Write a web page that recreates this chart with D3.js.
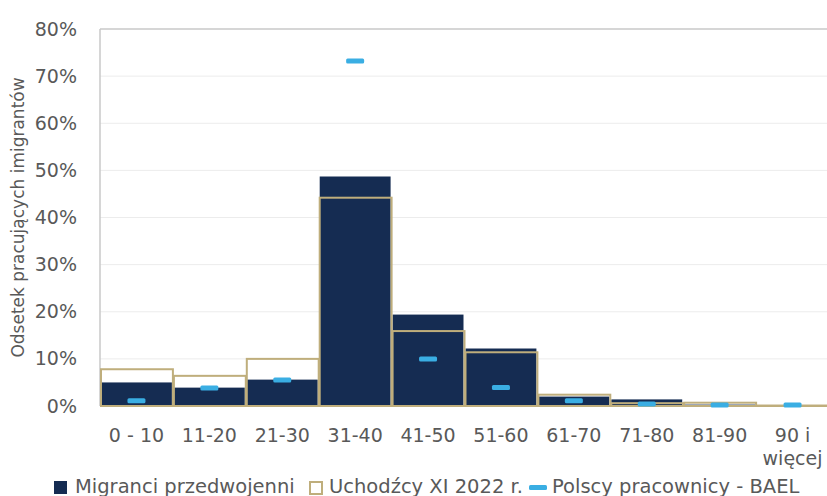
<!DOCTYPE html>
<html>
<head>
<meta charset="utf-8">
<script src="https://cdn.jsdelivr.net/npm/d3@7"></script>
<style>
  body { margin: 0; background: #fff; }
  text { font-family: "DejaVu Sans", sans-serif; fill: #595959; }
</style>
</head>
<body>
<div id="chart"></div>
<script>
// age groups and shares (%)
var categories = ["0 - 10", "11-20", "21-30", "31-40", "41-50", "51-60", "61-70", "71-80", "81-90", "90 i|więcej"];
var migranci = [5.0, 3.9, 5.6, 48.7, 19.4, 12.2, 2.0, 1.4, 0.3, 0.0];
var uchodzcy = [7.8, 6.4, 10.0, 44.2, 15.9, 11.4, 2.4, 0.6, 0.7, 0.1];
var polscy = [1.1, 3.8, 5.5, 73.2, 10.0, 3.9, 1.1, 0.4, 0.2, 0.2];
var yTicks = [0, 10, 20, 30, 40, 50, 60, 70, 80];
var seriesNames = ["Migranci przedwojenni", "Uchodźcy XI 2022 r.", "Polscy pracownicy - BAEL"];

var navy = "#152c52", tan = "#bfae7c", blue = "#3aaee3";

// set the dimensions and margins of the graph
var W = 827, H = 496;
var margin = {top: 29, right: -2, bottom: 90, left: 100},
    width = W - margin.left - margin.right,
    height = H - margin.top - margin.bottom;

var svg = d3.select("#chart")
  .append("svg")
    .attr("width", W)
    .attr("height", H)
  .append("g")
    .attr("transform", "translate(" + margin.left + "," + margin.top + ")");

var x = d3.scaleBand()
  .domain(categories)
  .range([0, width])
  .padding(0);

var y = d3.scaleLinear()
  .domain([0, 80])
  .range([height, 0]);

// gridlines
svg.append("g")
  .selectAll("line")
  .data(yTicks.slice(1))
  .enter()
  .append("line")
    .attr("x1", 0)
    .attr("x2", width)
    .attr("y1", function (d) { return y(d); })
    .attr("y2", function (d) { return y(d); })
    .attr("stroke", function (d) { return d == 80 ? "#c8c8c8" : "#ececec"; })
    .attr("stroke-width", function (d) { return d == 80 ? 1.5 : 1; });

// left axis line
svg.append("line")
  .attr("x1", 0).attr("x2", 0)
  .attr("y1", 0).attr("y2", height)
  .attr("stroke", "#c8c8c8")
  .attr("stroke-width", 1.5);

// Y axis labels
var yAxis = svg.append("g")
  .call(d3.axisLeft(y).tickValues(yTicks).tickSize(0).tickPadding(23).tickFormat(function (d) { return d + "%"; }));
yAxis.select(".domain").remove();
yAxis.selectAll("text")
  .style("font-size", "19px")
  .attr("fill", "#595959");

// migrants bars
svg.append("g")
  .selectAll("rect")
  .data(categories)
  .enter()
  .append("rect")
    .attr("x", function (d) { return x(d) + 1; })
    .attr("width", x.bandwidth() - 2)
    .attr("y", function (d, i) { return y(migranci[i]); })
    .attr("height", function (d, i) { return height - y(migranci[i]); })
    .attr("fill", navy);

// refugees outlines
svg.append("g")
  .selectAll("rect")
  .data(categories)
  .enter()
  .append("rect")
    .attr("x", function (d) { return x(d) + 1; })
    .attr("width", x.bandwidth() - 1)
    .attr("y", function (d, i) { return y(uchodzcy[i]); })
    .attr("height", function (d, i) { return height - y(uchodzcy[i]); })
    .attr("fill", "none")
    .attr("stroke", tan)
    .attr("stroke-width", 2);

// bottom axis line
svg.append("line")
  .attr("x1", 0).attr("x2", width)
  .attr("y1", height).attr("y2", height)
  .attr("stroke", tan)
  .attr("stroke-width", 2);

// Polish workers dashes
svg.append("g")
  .selectAll("rect")
  .data(categories)
  .enter()
  .append("rect")
    .attr("x", function (d) { return x(d) + x.bandwidth() / 2 - 9; })
    .attr("y", function (d, i) { return y(polscy[i]) - 2.5; })
    .attr("width", 18)
    .attr("height", 5)
    .attr("rx", 1.5)
    .attr("fill", blue);

// X axis labels
var xAxis = svg.append("g")
  .attr("transform", "translate(0," + height + ")")
  .call(d3.axisBottom(x).tickSize(0).tickPadding(0).tickFormat(""));
xAxis.select(".domain").remove();
xAxis.selectAll(".tick").append("text")
  .attr("text-anchor", "middle")
  .style("font-size", "19px")
  .attr("fill", "#595959")
  .each(function (d) {
    var lines = d.split("|");
    var t = d3.select(this);
    lines.forEach(function (l, k) {
      t.append("tspan")
        .attr("x", 0)
        .attr("y", 36 + k * 23)
        .text(l);
    });
  });

// Y axis title
svg.append("text")
  .attr("transform", "translate(" + (-76) + "," + (height / 2) + ") rotate(-90)")
  .attr("text-anchor", "middle")
  .style("font-size", "17px")
  .text("Odsetek pracujących imigrantów");

// legend
var leg = d3.select("svg").append("g").attr("transform", "translate(0,493)");
leg.append("rect").attr("x", 54).attr("y", -12).attr("width", 13).attr("height", 13).attr("fill", navy);
leg.append("text").attr("x", 75).attr("y", 0).style("font-size", "19.5px").text(seriesNames[0]);
leg.append("rect").attr("x", 310).attr("y", -11).attr("width", 12).attr("height", 12)
  .attr("fill", "none").attr("stroke", tan).attr("stroke-width", 2);
leg.append("text").attr("x", 329).attr("y", 0).style("font-size", "19.5px").text(seriesNames[1]);
leg.append("rect").attr("x", 529).attr("y", -8).attr("width", 18).attr("height", 5).attr("rx", 1.5).attr("fill", blue);
leg.append("text").attr("x", 552).attr("y", 0).style("font-size", "19.5px").text(seriesNames[2]);
</script>
</body>
</html>
